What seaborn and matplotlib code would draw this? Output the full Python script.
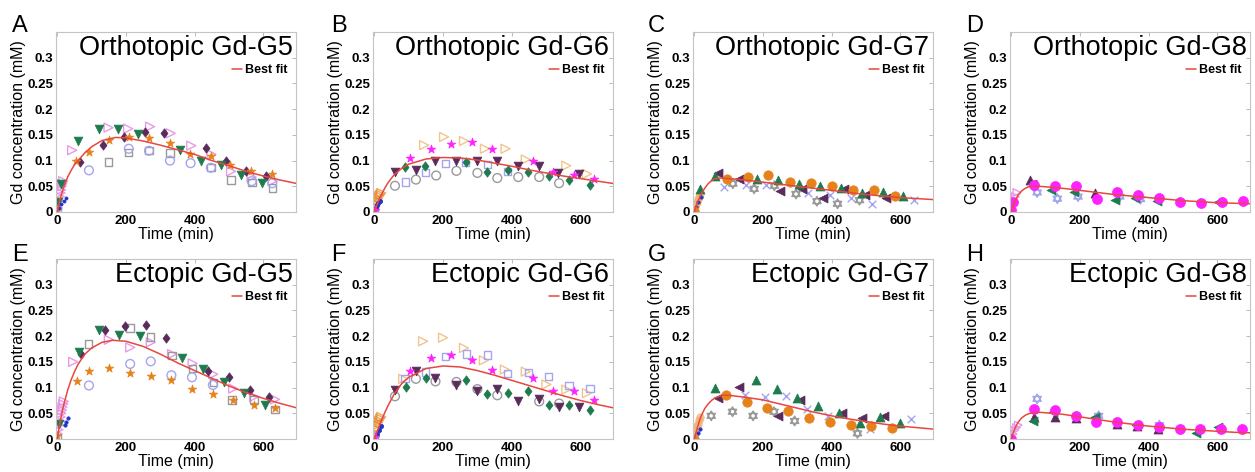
import matplotlib

matplotlib.use("Agg")

import matplotlib.pyplot as plt
import seaborn as sns
from matplotlib.path import Path

# ---- panel titles / letters / ticks ----
LETTERS = ["A", "B", "C", "D", "E", "F", "G", "H"]
TITLES = [
    "Orthotopic Gd-G5", "Orthotopic Gd-G6", "Orthotopic Gd-G7", "Orthotopic Gd-G8",
    "Ectopic Gd-G5", "Ectopic Gd-G6", "Ectopic Gd-G7", "Ectopic Gd-G8",
]
X_TICKS = [0, 200, 400, 600]
Y_TICKS = [0, 0.05, 0.1, 0.15, 0.2, 0.25, 0.3]
Y_TICK_LABELS = ["0", "0.05", "0.1", "0.15", "0.2", "0.25", "0.3"]

FIT_T = [0, 5, 10, 15, 20, 30, 40, 50, 60, 80, 100, 150, 200, 250, 300, 350, 400,
         450, 500, 550, 600, 650, 700]

# ---- A: Orthotopic Gd-G5 ----
A_fit_t = [0, 5, 10, 15, 20, 30, 40, 50, 60, 80, 100, 130, 170, 200, 250, 300, 350,
           400, 450, 500, 550, 600, 650, 700]
A_fit_y = [0, 0.016, 0.03, 0.041, 0.051, 0.068, 0.081, 0.092, 0.1, 0.115, 0.127, 0.139,
           0.145, 0.144, 0.138, 0.13, 0.121, 0.112, 0.1, 0.09, 0.079, 0.07, 0.062, 0.055]
A_diamond_t = [66, 134, 193, 256, 312, 433, 491, 549, 608]
A_diamond_y = [0.097, 0.13, 0.145, 0.155, 0.154, 0.124, 0.099, 0.08, 0.07]
A_vtri_t = [2, 10, 60, 121, 178, 236, 357, 417, 477, 535, 597]
A_vtri_y = [0.02, 0.055, 0.138, 0.162, 0.162, 0.151, 0.121, 0.1, 0.091, 0.071, 0.056]
A_star_t = [0, 53, 91, 150, 208, 267, 327, 385, 446, 503, 563, 624]
A_star_y = [0.003, 0.1, 0.117, 0.14, 0.146, 0.143, 0.134, 0.112, 0.109, 0.092, 0.079, 0.073]
A_rtri_t = [1, 3, 5, 7, 9, 11, 13, 15, 17, 43, 149, 206, 270, 330, 390, 449, 506, 566, 627]
A_rtri_y = [0.008, 0.015, 0.022, 0.03, 0.037, 0.043, 0.05, 0.055, 0.06, 0.12, 0.164,
            0.162, 0.166, 0.153, 0.129, 0.112, 0.079, 0.068, 0.06]
A_square_t = [149, 208, 267, 328, 447, 506, 567, 626]
A_square_y = [0.097, 0.116, 0.119, 0.115, 0.086, 0.062, 0.057, 0.047]
A_circle_t = [0, 92, 208, 267, 328, 388, 447, 566, 626]
A_circle_y = [0.005, 0.081, 0.123, 0.119, 0.1, 0.095, 0.086, 0.06, 0.056]
A_early_t = [6, 12, 18, 24]
A_early_y = [0.008, 0.015, 0.022, 0.028]

# ---- B: Orthotopic Gd-G6 ----
B_fit_y = [0, 0.009, 0.018, 0.026, 0.033, 0.046, 0.057, 0.066, 0.074, 0.085, 0.093, 0.103,
           0.106, 0.105, 0.101, 0.095, 0.089, 0.082, 0.076, 0.07, 0.065, 0.06, 0.055]
B_vtri_t = [60, 121, 178, 239, 300, 358, 419, 480, 535, 596]
B_vtri_y = [0.078, 0.082, 0.1, 0.099, 0.1, 0.1, 0.09, 0.09, 0.076, 0.074]
B_diamond_t = [89, 148, 268, 329, 388, 448, 508, 567, 628]
B_diamond_y = [0.088, 0.09, 0.098, 0.078, 0.082, 0.078, 0.07, 0.063, 0.053]
B_star_t = [2, 104, 164, 223, 283, 343, 462, 521, 581, 641]
B_star_y = [0.003, 0.105, 0.123, 0.132, 0.136, 0.123, 0.1, 0.077, 0.071, 0.065]
B_rtri_t = [145, 203, 261, 322, 382, 441, 559, 619]
B_rtri_y = [0.13, 0.146, 0.138, 0.123, 0.123, 0.102, 0.09, 0.074]
B_circle_t = [0, 60, 121, 180, 239, 300, 358, 419, 480, 538]
B_circle_y = [0.003, 0.051, 0.063, 0.071, 0.08, 0.076, 0.066, 0.068, 0.068, 0.056]
B_square_t = [91, 149, 208, 266, 329, 388]
B_square_y = [0.058, 0.077, 0.094, 0.097, 0.092, 0.079]
B_orange_t = [2, 5, 8, 11, 14, 17, 20]
B_orange_y = [0.01, 0.016, 0.022, 0.027, 0.031, 0.034, 0.037]
B_early_t = [4, 8, 12, 16]
B_early_y = [0.008, 0.013, 0.018, 0.022]

# ---- C: Orthotopic Gd-G7 ----
C_fit_y = [0, 0.011, 0.02, 0.028, 0.035, 0.046, 0.055, 0.061, 0.065, 0.066, 0.065, 0.062,
           0.058, 0.054, 0.05, 0.046, 0.042, 0.038, 0.034, 0.031, 0.028, 0.026, 0.024]
C_circle_t = [0, 94, 156, 215, 278, 339, 402, 461, 522, 583]
C_circle_y = [0.001, 0.065, 0.068, 0.071, 0.058, 0.056, 0.051, 0.042, 0.042, 0.032]
C_utri_t = [15, 60, 182, 243, 305, 365, 427, 488, 548, 608]
C_utri_y = [0.045, 0.07, 0.064, 0.063, 0.055, 0.051, 0.047, 0.037, 0.038, 0.031]
C_ltri_t = [69, 131, 248, 313, 374, 437, 496, 559]
C_ltri_y = [0.076, 0.064, 0.04, 0.045, 0.027, 0.045, 0.034, 0.027]
C_x_t = [87, 149, 210, 332, 394, 456, 518, 640]
C_x_y = [0.049, 0.052, 0.052, 0.037, 0.034, 0.027, 0.016, 0.024]
C_hex_t = [112, 174, 233, 296, 357, 417, 481]
C_hex_y = [0.055, 0.045, 0.051, 0.035, 0.021, 0.016, 0.023]
C_orange_t = [2, 5, 8, 11, 14, 17]
C_orange_y = [0.01, 0.015, 0.02, 0.025, 0.03, 0.035]
C_early_t = [6, 12, 18]
C_early_y = [0.01, 0.02, 0.03]

# ---- D: Orthotopic Gd-G8 ----
D_fit_y = [0, 0.011, 0.02, 0.027, 0.033, 0.041, 0.046, 0.049, 0.05, 0.05, 0.049, 0.046,
           0.042, 0.038, 0.034, 0.031, 0.028, 0.025, 0.022, 0.02, 0.018, 0.017, 0.016]
D_circle_t = [0, 5, 65, 126, 188, 248, 309, 370, 430, 492, 551, 613, 674]
D_circle_y = [0.003, 0.02, 0.053, 0.05, 0.05, 0.025, 0.038, 0.033, 0.028, 0.019, 0.018,
              0.02, 0.021]
D_utri_t = [55, 243]
D_utri_y = [0.062, 0.037]
D_ltri_t = [60, 116, 181, 302, 361, 423, 603]
D_ltri_y = [0.055, 0.043, 0.039, 0.023, 0.028, 0.022, 0.02]
D_hex_t = [75, 134, 194, 316, 376]
D_hex_y = [0.038, 0.026, 0.03, 0.03, 0.025]
D_pink_t = [8, 12, 16]
D_pink_y = [0.02, 0.03, 0.038]

# ---- E: Ectopic Gd-G5 ----
E_fit_t = [0, 5, 10, 15, 20, 30, 40, 50, 60, 80, 100, 130, 160, 200, 250, 300, 350, 400,
           450, 500, 550, 600, 650, 700]
E_fit_y = [0, 0.022, 0.04, 0.056, 0.07, 0.095, 0.115, 0.131, 0.145, 0.165, 0.177, 0.188,
           0.192, 0.19, 0.18, 0.165, 0.148, 0.133, 0.118, 0.103, 0.09, 0.079, 0.069, 0.06]
E_diamond_t = [68, 139, 197, 258, 316, 438, 500, 560, 617]
E_diamond_y = [0.165, 0.211, 0.219, 0.222, 0.197, 0.133, 0.12, 0.096, 0.082]
E_vtri_t = [5, 62, 121, 180, 241, 363, 425, 485, 544, 604]
E_vtri_y = [0.03, 0.169, 0.212, 0.203, 0.2, 0.158, 0.137, 0.111, 0.09, 0.066]
E_square_t = [0, 90, 212, 272, 334, 394, 454, 509, 573, 634]
E_square_y = [0.003, 0.185, 0.216, 0.198, 0.162, 0.137, 0.11, 0.076, 0.077, 0.057]
E_rtri_t = [1, 3, 5, 7, 9, 11, 13, 15, 17, 19, 46, 150, 212, 272, 334, 394, 454, 512,
            573, 634]
E_rtri_y = [0.01, 0.018, 0.027, 0.035, 0.043, 0.05, 0.056, 0.062, 0.068, 0.073, 0.15,
            0.193, 0.178, 0.188, 0.165, 0.147, 0.126, 0.098, 0.082, 0.077]
E_star_t = [0, 56, 92, 150, 212, 272, 332, 392, 453, 511, 573, 633]
E_star_y = [0.005, 0.112, 0.133, 0.139, 0.128, 0.123, 0.115, 0.097, 0.087, 0.076, 0.066, 0.06]
E_circle_t = [92, 212, 272, 332, 392, 453]
E_circle_y = [0.104, 0.146, 0.151, 0.124, 0.12, 0.105]
E_early_t = [22, 26, 30]
E_early_y = [0.028, 0.034, 0.04]

# ---- F: Ectopic Gd-G6 ----
F_fit_y = [0, 0.009, 0.018, 0.027, 0.035, 0.051, 0.065, 0.078, 0.09, 0.108, 0.12, 0.137,
           0.142, 0.14, 0.133, 0.124, 0.114, 0.104, 0.094, 0.084, 0.075, 0.067, 0.06]
F_vtri_t = [60, 121, 178, 239, 300, 358, 419, 480, 538, 596]
F_vtri_y = [0.096, 0.133, 0.118, 0.105, 0.094, 0.097, 0.074, 0.077, 0.062, 0.062]
F_diamond_t = [91, 150, 268, 329, 388, 448, 508, 567, 628]
F_diamond_y = [0.102, 0.118, 0.115, 0.087, 0.089, 0.094, 0.066, 0.066, 0.057]
F_star_t = [2, 104, 164, 223, 283, 343, 462, 521, 581, 641]
F_star_y = [0.003, 0.132, 0.157, 0.163, 0.154, 0.135, 0.118, 0.093, 0.093, 0.076]
F_rtri_t = [84, 142, 200, 261, 319, 380, 441, 501, 559, 619]
F_rtri_y = [0.117, 0.19, 0.197, 0.177, 0.153, 0.135, 0.131, 0.106, 0.096, 0.089]
F_circle_t = [0, 60, 121, 178, 239, 300, 358, 480, 538]
F_circle_y = [0.003, 0.083, 0.117, 0.112, 0.111, 0.097, 0.085, 0.073, 0.069]
F_square_t = [89, 149, 208, 268, 329, 388, 448, 508, 567, 628]
F_square_y = [0.118, 0.13, 0.16, 0.165, 0.163, 0.127, 0.129, 0.121, 0.104, 0.098]
F_orange_t = [2, 5, 8, 11, 14, 17, 20]
F_orange_y = [0.012, 0.02, 0.027, 0.032, 0.036, 0.04, 0.043]
F_early_t = [8, 14, 20]
F_early_y = [0.01, 0.018, 0.025]

# ---- G: Ectopic Gd-G7 ----
G_fit_y = [0, 0.013, 0.025, 0.036, 0.045, 0.059, 0.068, 0.075, 0.08, 0.085, 0.085, 0.081,
           0.076, 0.068, 0.06, 0.052, 0.045, 0.039, 0.034, 0.029, 0.025, 0.022, 0.019]
G_circle_t = [0, 93, 154, 212, 274, 335, 396, 455, 515, 575]
G_circle_y = [0.0, 0.086, 0.071, 0.061, 0.055, 0.04, 0.034, 0.027, 0.025, 0.021]
G_utri_t = [59, 179, 240, 300, 360, 421, 481, 540, 600]
G_utri_y = [0.1, 0.114, 0.097, 0.079, 0.064, 0.051, 0.032, 0.042, 0.032]
G_ltri_t = [68, 129, 245, 309, 430, 489, 551]
G_ltri_y = [0.079, 0.102, 0.044, 0.076, 0.051, 0.041, 0.044]
G_x_t = [147, 207, 267, 327, 389, 511, 631]
G_x_y = [0.086, 0.081, 0.084, 0.058, 0.045, 0.019, 0.038]
G_hex_t = [49, 111, 171, 232, 292, 475]
G_hex_y = [0.045, 0.053, 0.045, 0.053, 0.035, 0.011]
G_orange_t = [2, 5, 8, 11, 14, 17]
G_orange_y = [0.012, 0.018, 0.025, 0.03, 0.036, 0.042]
G_early_t = [10, 16]
G_early_y = [0.012, 0.02]

# ---- H: Ectopic Gd-G8 ----
H_fit_y = [0, 0.011, 0.02, 0.027, 0.033, 0.041, 0.046, 0.049, 0.051, 0.052, 0.051, 0.048,
           0.043, 0.038, 0.033, 0.029, 0.025, 0.022, 0.019, 0.017, 0.015, 0.013, 0.012]
H_circle_t = [0, 67, 128, 187, 247, 308, 369, 429, 490, 549, 611, 672]
H_circle_y = [0.0, 0.058, 0.056, 0.044, 0.034, 0.033, 0.027, 0.024, 0.02, 0.019, 0.019, 0.02]
H_utri_t = [67, 126, 187, 308, 367, 428]
H_utri_y = [0.042, 0.042, 0.04, 0.03, 0.025, 0.019]
H_ltri_t = [62, 121, 244, 362, 539, 603]
H_ltri_y = [0.035, 0.053, 0.042, 0.027, 0.012, 0.023]
H_hex_t = [75, 254, 431]
H_hex_y = [0.078, 0.045, 0.027]
H_pink_t = [5, 10, 15, 20]
H_pink_y = [0.01, 0.017, 0.022, 0.027]

# ---- colours ----
PURPLE = "#5a2c5c"
GREEN = "#1e7b4e"
ORANGE = "#e6821c"
PINK = "#e79ae8"
GREY = "#9a9a9a"
LBLUE = "#a4a4f0"
MAGENTA = "#ff22ff"
TAN = "#f2c48e"
DBLUE = "#2233cc"
RED = "#e8473f"

# tall diamond and open star-of-david markers
DIAMOND = Path([(0, 1), (0.75, 0), (0, -1), (-0.75, 0), (0, 1)],
               [Path.MOVETO, Path.LINETO, Path.LINETO, Path.LINETO, Path.CLOSEPOLY])
HEX = Path(
    [(0, 1), (-0.866, -0.5), (0.866, -0.5), (0, 1),
     (0, -1), (0.866, 0.5), (-0.866, 0.5), (0, -1)],
    [Path.MOVETO, Path.LINETO, Path.LINETO, Path.CLOSEPOLY] * 2,
)


def dots(ax, t, y, marker, color, s, hollow=False, alpha=1.0):
    if hollow:
        sns.scatterplot(x=t, y=y, ax=ax, marker=marker, s=s, facecolors="none",
                        edgecolor=color, linewidth=1.0, alpha=alpha, zorder=2)
    elif marker == "x":
        sns.scatterplot(x=t, y=y, ax=ax, marker=marker, s=s, color=color,
                        linewidth=1.0, alpha=alpha, zorder=2)
    else:
        sns.scatterplot(x=t, y=y, ax=ax, marker=marker, s=s, color=color,
                        edgecolor=color, linewidth=0.5, alpha=alpha, zorder=2)


def style_axes(ax, title, fit_t, fit_y):
    sns.lineplot(x=fit_t, y=fit_y, ax=ax, color=RED, lw=1.1, label="Best fit", zorder=3)
    ax.set_xlim(-4, 695)
    ax.set_ylim(0, 0.35)
    ax.set_xticks(X_TICKS)
    ax.set_yticks(Y_TICKS)
    ax.set_yticklabels(Y_TICK_LABELS)
    ax.tick_params(direction="in", length=3, width=0.6, color="#b0b0b0", top=True,
                   right=True, labelsize=9.5, pad=2, labelcolor="black")
    for lab in ax.get_xticklabels() + ax.get_yticklabels():
        lab.set_fontweight("bold")
    for sp in ax.spines.values():
        sp.set_color("#c4c4c4")
        sp.set_linewidth(0.8)
    ax.set_xlabel("Time (min)", fontsize=11.5, labelpad=0, color="black")
    ax.set_ylabel("Gd concentration (mM)", fontsize=11.5, labelpad=1, color="black")
    ax.text(0.985, 0.985, title, transform=ax.transAxes, ha="right", va="top",
            fontsize=19.5, color="black")
    leg = ax.legend(loc="upper right", bbox_to_anchor=(1.0, 0.87), frameon=False,
                    handlelength=0.8, handletextpad=0.2, borderpad=0.2,
                    prop=dict(weight="bold", size=9))
    for txt in leg.get_texts():
        txt.set_color("black")


def main():
    sns.set_style("white")
    plt.rcParams["font.family"] = ["Liberation Sans", "DejaVu Sans"]
    plt.rcParams["text.color"] = "black"

    fig = plt.figure(figsize=(12.55, 4.72), dpi=100)
    lefts = [56, 373, 693, 1010]
    tops = [32, 259]
    w, h = 240 / 1255, 180 / 472
    axes = []
    for top in tops:
        for left in lefts:
            axes.append(fig.add_axes([left / 1255, 1 - (top + 180) / 472, w, h]))
    ax_a, ax_b, ax_c, ax_d, ax_e, ax_f, ax_g, ax_h = axes

    # A
    dots(ax_a, A_rtri_t, A_rtri_y, ">", PINK, 42, hollow=True)
    dots(ax_a, A_square_t, A_square_y, "s", GREY, 28, hollow=True)
    dots(ax_a, A_circle_t, A_circle_y, "o", LBLUE, 40, hollow=True)
    dots(ax_a, A_diamond_t, A_diamond_y, DIAMOND, PURPLE, 46)
    dots(ax_a, A_vtri_t, A_vtri_y, "v", GREEN, 40)
    dots(ax_a, A_star_t, A_star_y, "*", ORANGE, 42)
    dots(ax_a, A_early_t, A_early_y, "o", DBLUE, 5)
    # B
    dots(ax_b, B_rtri_t, B_rtri_y, ">", TAN, 42, hollow=True)
    dots(ax_b, B_circle_t, B_circle_y, "o", GREY, 40, hollow=True)
    dots(ax_b, B_square_t, B_square_y, "s", LBLUE, 28, hollow=True)
    dots(ax_b, B_orange_t, B_orange_y, ">", ORANGE, 40, hollow=True, alpha=0.7)
    dots(ax_b, B_early_t, B_early_y, "o", DBLUE, 10)
    dots(ax_b, B_vtri_t, B_vtri_y, "v", PURPLE, 40)
    dots(ax_b, B_diamond_t, B_diamond_y, DIAMOND, GREEN, 46)
    dots(ax_b, B_star_t, B_star_y, "*", MAGENTA, 42)
    # C
    dots(ax_c, C_hex_t, C_hex_y, HEX, GREY, 48, hollow=True)
    dots(ax_c, C_x_t, C_x_y, "x", LBLUE, 30)
    dots(ax_c, C_orange_t, C_orange_y, "o", "#f0b070", 30, alpha=0.7)
    dots(ax_c, C_early_t, C_early_y, "o", DBLUE, 6)
    dots(ax_c, C_ltri_t, C_ltri_y, "<", PURPLE, 42)
    dots(ax_c, C_utri_t, C_utri_y, "^", GREEN, 42)
    dots(ax_c, C_circle_t, C_circle_y, "o", ORANGE, 46)
    # D
    dots(ax_d, D_hex_t, D_hex_y, HEX, LBLUE, 48, hollow=True)
    dots(ax_d, D_pink_t, D_pink_y, ">", PINK, 30, hollow=True)
    dots(ax_d, D_utri_t, D_utri_y, "^", PURPLE, 42)
    dots(ax_d, D_ltri_t, D_ltri_y, "<", GREEN, 42)
    dots(ax_d, D_circle_t, D_circle_y, "o", MAGENTA, 52)
    # E
    dots(ax_e, E_rtri_t, E_rtri_y, ">", PINK, 42, hollow=True)
    dots(ax_e, E_square_t, E_square_y, "s", GREY, 28, hollow=True)
    dots(ax_e, E_circle_t, E_circle_y, "o", LBLUE, 40, hollow=True)
    dots(ax_e, E_early_t, E_early_y, "o", DBLUE, 6)
    dots(ax_e, E_diamond_t, E_diamond_y, DIAMOND, PURPLE, 46)
    dots(ax_e, E_vtri_t, E_vtri_y, "v", GREEN, 40)
    dots(ax_e, E_star_t, E_star_y, "*", ORANGE, 42)
    # F
    dots(ax_f, F_rtri_t, F_rtri_y, ">", TAN, 42, hollow=True)
    dots(ax_f, F_circle_t, F_circle_y, "o", GREY, 40, hollow=True)
    dots(ax_f, F_square_t, F_square_y, "s", LBLUE, 28, hollow=True)
    dots(ax_f, F_orange_t, F_orange_y, ">", ORANGE, 40, hollow=True, alpha=0.7)
    dots(ax_f, F_early_t, F_early_y, "o", DBLUE, 10)
    dots(ax_f, F_vtri_t, F_vtri_y, "v", PURPLE, 40)
    dots(ax_f, F_diamond_t, F_diamond_y, DIAMOND, GREEN, 46)
    dots(ax_f, F_star_t, F_star_y, "*", MAGENTA, 42)
    # G
    dots(ax_g, G_hex_t, G_hex_y, HEX, GREY, 48, hollow=True)
    dots(ax_g, G_x_t, G_x_y, "x", LBLUE, 30)
    dots(ax_g, G_orange_t, G_orange_y, "o", "#f0b070", 30, alpha=0.7)
    dots(ax_g, G_early_t, G_early_y, "o", DBLUE, 6)
    dots(ax_g, G_ltri_t, G_ltri_y, "<", PURPLE, 42)
    dots(ax_g, G_utri_t, G_utri_y, "^", GREEN, 42)
    dots(ax_g, G_circle_t, G_circle_y, "o", ORANGE, 46)
    # H
    dots(ax_h, H_hex_t, H_hex_y, HEX, LBLUE, 48, hollow=True)
    dots(ax_h, H_pink_t, H_pink_y, ">", PINK, 30, hollow=True)
    dots(ax_h, H_utri_t, H_utri_y, "^", PURPLE, 42)
    dots(ax_h, H_ltri_t, H_ltri_y, "<", GREEN, 42)
    dots(ax_h, H_circle_t, H_circle_y, "o", MAGENTA, 52)

    fits = [
        (A_fit_t, A_fit_y), (FIT_T, B_fit_y), (FIT_T, C_fit_y), (FIT_T, D_fit_y),
        (E_fit_t, E_fit_y), (FIT_T, F_fit_y), (FIT_T, G_fit_y), (FIT_T, H_fit_y),
    ]
    for ax, title, (ft, fy) in zip(axes, TITLES, fits):
        style_axes(ax, title, ft, fy)

    # panel letters
    letter_x = [12, 331, 648, 966]
    for i, letter in enumerate(LETTERS):
        row, col = divmod(i, 4)
        base = [32, 261][row]
        fig.text(letter_x[col] / 1255, 1 - base / 472, letter, fontsize=17,
                 ha="left", va="baseline", color="black")

    fig.savefig("out.png", dpi=100)
    plt.close(fig)


if __name__ == "__main__":
    main()
